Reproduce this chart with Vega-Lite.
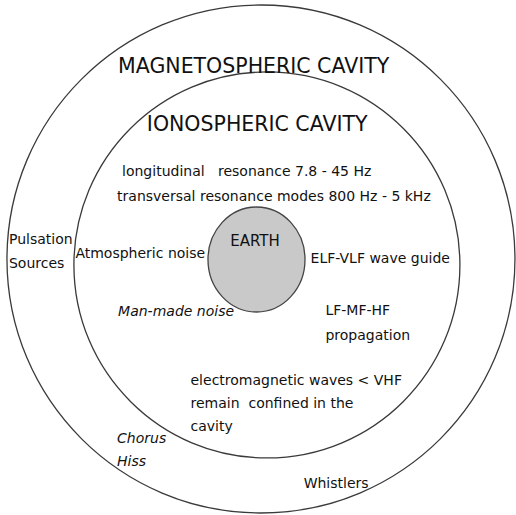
{
  "$schema": "https://vega.github.io/schema/vega-lite/v6.json",
  "width": 516,
  "height": 515,
  "autosize": {"type": "fit", "contains": "padding"},
  "padding": 0,
  "background": "white",
  "config": {"view": {"stroke": null}},
  "datasets": {
    "rings": [
      {"name": "Magnetospheric cavity", "x": 263, "y": 260, "r": 254},
      {"name": "Ionospheric cavity", "x": 269, "y": 266, "r": 193}
    ],
    "earth": [
      {"name": "Earth", "x": 258.5, "y": 260.5, "r": 52.5}
    ],
    "labels": [
      {"label": "MAGNETOSPHERIC CAVITY", "kind": "title", "x": 119, "y": 73},
      {"label": "IONOSPHERIC CAVITY", "kind": "title", "x": 148, "y": 132},
      {"label": "longitudinal\u00a0\u00a0 resonance 7.8 - 45 Hz", "kind": "body", "x": 123, "y": 177},
      {"label": "transversal resonance modes 800 Hz - 5 kHz", "kind": "body", "x": 118, "y": 202},
      {"label": "Pulsation", "kind": "body", "x": 9, "y": 245},
      {"label": "Sources", "kind": "body", "x": 9, "y": 269},
      {"label": "Atmospheric noise", "kind": "body", "x": 76, "y": 259},
      {"label": "EARTH", "kind": "earth", "x": 232, "y": 247},
      {"label": "ELF-VLF wave guide", "kind": "body", "x": 313, "y": 264},
      {"label": "Man-made noise", "kind": "italic", "x": 119, "y": 317},
      {"label": "LF-MF-HF", "kind": "body", "x": 328, "y": 316},
      {"label": "propagation", "kind": "body", "x": 328, "y": 341},
      {"label": "electromagnetic waves < VHF", "kind": "body", "x": 192, "y": 387},
      {"label": "remain\u00a0 confined in the", "kind": "body", "x": 192, "y": 410},
      {"label": "cavity", "kind": "body", "x": 192, "y": 433},
      {"label": "Chorus", "kind": "italic", "x": 118, "y": 445},
      {"label": "Hiss", "kind": "italic", "x": 118, "y": 468},
      {"label": "Whistlers", "kind": "body", "x": 306, "y": 490}
    ]
  },
  "encoding": {
    "x": {"field": "x", "type": "quantitative", "scale": {"domain": [0, 516], "nice": false, "zero": false}, "axis": null},
    "y": {"field": "y", "type": "quantitative", "scale": {"domain": [0, 515], "nice": false, "zero": false, "reverse": true}, "axis": null}
  },
  "layer": [
    {
      "data": {"name": "rings"},
      "mark": {"type": "point", "shape": "M1,0A1,1 0 1,1 -1,0A1,1 0 1,1 1,0Z", "filled": false, "stroke": "#3a3a3a", "strokeWidth": 1.3, "opacity": 1},
      "encoding": {
        "size": {"field": "r", "type": "quantitative", "scale": {"type": "pow", "exponent": 2, "domain": [0, 100], "range": [0, 40000]}, "legend": null}
      }
    },
    {
      "data": {"name": "earth"},
      "mark": {"type": "point", "shape": "M0.924,0A0.924,1 0 1,1 -0.924,0A0.924,1 0 1,1 0.924,0Z", "filled": true, "fill": "#c9c9c9", "stroke": "#444444", "strokeWidth": 1.3, "opacity": 1, "fillOpacity": 1},
      "encoding": {
        "size": {"field": "r", "type": "quantitative", "scale": {"type": "pow", "exponent": 2, "domain": [0, 100], "range": [0, 40000]}, "legend": null}
      }
    },
    {
      "data": {"name": "labels"},
      "transform": [{"filter": "datum.kind === 'title'"}],
      "mark": {"type": "text", "align": "left", "baseline": "alphabetic", "font": "DejaVu Sans", "fontSize": 20.5, "color": "#111111"},
      "encoding": {"text": {"field": "label"}}
    },
    {
      "data": {"name": "labels"},
      "transform": [{"filter": "datum.kind === 'body'"}],
      "mark": {"type": "text", "align": "left", "baseline": "alphabetic", "font": "DejaVu Sans", "fontSize": 14, "color": "#111111"},
      "encoding": {"text": {"field": "label"}}
    },
    {
      "data": {"name": "labels"},
      "transform": [{"filter": "datum.kind === 'earth'"}],
      "mark": {"type": "text", "align": "left", "baseline": "alphabetic", "font": "DejaVu Sans", "fontSize": 15, "color": "#111111"},
      "encoding": {"text": {"field": "label"}}
    },
    {
      "data": {"name": "labels"},
      "transform": [{"filter": "datum.kind === 'italic'"}],
      "mark": {"type": "text", "align": "left", "baseline": "alphabetic", "font": "DejaVu Sans", "fontSize": 14, "fontStyle": "italic", "color": "#111111"},
      "encoding": {"text": {"field": "label"}}
    }
  ]
}
